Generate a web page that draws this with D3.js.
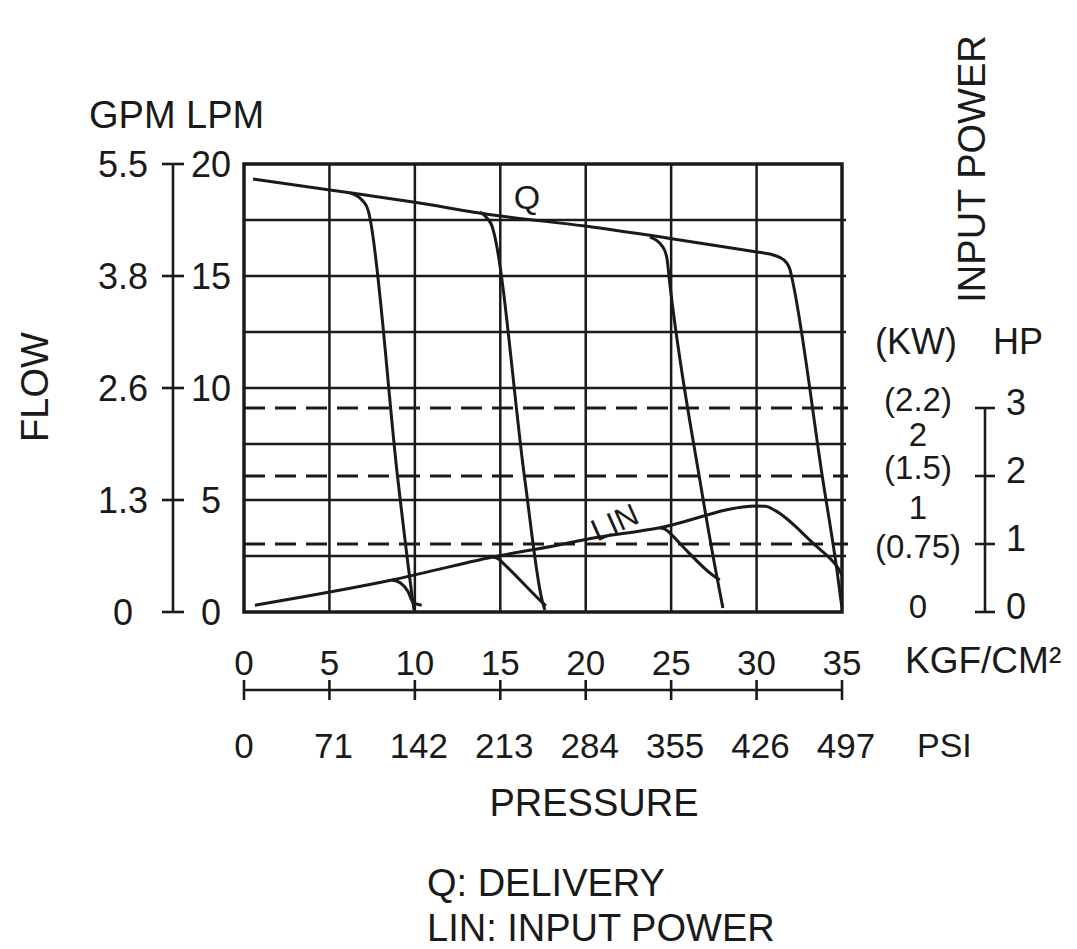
<!DOCTYPE html>
<html>
<head>
<meta charset="utf-8">
<script src="https://cdnjs.cloudflare.com/ajax/libs/d3/7.8.5/d3.min.js"></script>
<style>
	body { margin: 0; background: #fff; }
	text { font-family: 'Liberation Sans', Arial, Helvetica, sans-serif; fill: #1a1a1a; }
</style>
</head>
<body>
<div class="chart-wrapper"></div>
<script>
// ticks and labels
const kgfTicks = [0, 5, 10, 15, 20, 25, 30, 35];
const psiTicks = [0, 71, 142, 213, 284, 355, 426, 497];
const lpmTicks = [0, 5, 10, 15, 20];
const gpmLabels = ['0', '1.3', '2.6', '3.8', '5.5'];
const hpTicks = [0, 1, 2, 3];
const kwValues = [2.2, 2, 1.5, 1, 0.75, 0];
const kwLabels = ['(2.2)', '2', '(1.5)', '1', '(0.75)', '0'];

// Q delivery (kgf/cm2, LPM) - main line ending in the 35 relief drop
const qMain = [[0.53, 19.33], [5.03, 18.84], [9.89, 18.30], [14.57, 17.72], [19.95, 17.23],
	[24.75, 16.70], [30.02, 16.07], [30.78, 15.98], [31.6, 15.72], [31.95, 15.3], [32.07, 14.91],
	[33.88, 5.89], [34.70, 1.88], [34.99, 0.22]];
// relief drops branching off Q
const qRelief10 = [[6.20, 18.71], [6.96, 18.35], [7.28, 17.9], [7.37, 17.59], [9.01, 5.89], [9.83, 0.76], [9.95, 0.09]];
const qRelief17 = [[13.81, 17.86], [14.28, 17.54], [14.53, 17.2], [14.63, 16.92], [16.44, 5.89], [17.44, 0.54], [17.61, 0.09]];
const qRelief28 = [[23.76, 16.74], [24.52, 16.29], [24.75, 15.8], [24.93, 14.60], [26.68, 5.89], [27.68, 1.56], [28.03, 0.18]];

// LIN input power (kgf/cm2, HP)
const linMain = [[0.64, 0.10], [8.66, 0.47], [14.57, 0.81], [18.49, 0.99], [19.84, 1.06], [24.34, 1.24],
	[30.02, 1.56], [30.6, 1.55], [31.1, 1.49], [33.53, 0.96], [34.29, 0.79], [34.76, 0.65], [34.99, 0.54]];
const linRelief10 = [[8.66, 0.47], [9.2, 0.42], [9.6, 0.3], [9.9, 0.14], [10.4, 0.1]];
const linRelief17 = [[14.57, 0.81], [14.9, 0.78], [15.16, 0.72], [17.5, 0.13], [17.67, 0.09]];
const linRelief28 = [[24.34, 1.24], [24.7, 1.21], [24.93, 1.16], [25.69, 0.96], [27.44, 0.54], [27.85, 0.47]];

const ink = '#1a1a1a';

const svg = d3.select('.chart-wrapper').append('svg')
	.attr('width', 1077)
	.attr('height', 949);

var x = d3.scaleLinear().domain([0, 35]).range([244, 842]),
	y = d3.scaleLinear().domain([0, 20]).range([612, 164]),
	hp = d3.scaleLinear().domain([0, 3]).range([612, 408]);

// grid
var grid = svg.append('g').attr('class', 'grid');

grid.selectAll('.hgrid')
	.data(d3.range(2.5, 20, 2.5))
	.join('line')
	.attr('class', 'hgrid')
	.attr('x1', x(0)).attr('x2', x(35) + 4)
	.attr('y1', d => y(d)).attr('y2', d => y(d))
	.attr('stroke', ink).attr('stroke-width', 2.5);

grid.selectAll('.vgrid')
	.data(kgfTicks.slice(1, -1))
	.join('line')
	.attr('class', 'vgrid')
	.attr('x1', d => x(d)).attr('x2', d => x(d))
	.attr('y1', y(20)).attr('y2', y(0))
	.attr('stroke', ink).attr('stroke-width', 2.5);

grid.selectAll('.hpline')
	.data(hpTicks.slice(1))
	.join('line')
	.attr('class', 'hpline')
	.attr('x1', x(0)).attr('x2', x(35) + 6)
	.attr('y1', d => hp(d)).attr('y2', d => hp(d))
	.attr('stroke', ink).attr('stroke-width', 3)
	.attr('stroke-dasharray', '21,10');

// frame
svg.append('rect')
	.attr('x', x(0)).attr('y', y(20))
	.attr('width', x(35) - x(0)).attr('height', y(0) - y(20))
	.attr('fill', 'none').attr('stroke', ink).attr('stroke-width', 3.5);

// curves
var qLine = d3.line().x(d => x(d[0])).y(d => y(d[1])).curve(d3.curveMonotoneX),
	linLine = d3.line().x(d => x(d[0])).y(d => hp(d[1])).curve(d3.curveMonotoneX);

svg.selectAll('.q_curve')
	.data([qMain, qRelief10, qRelief17, qRelief28])
	.join('path')
	.attr('class', 'q_curve')
	.attr('d', qLine)
	.attr('fill', 'none').attr('stroke', ink).attr('stroke-width', 3);

svg.selectAll('.lin_curve')
	.data([linMain, linRelief10, linRelief17, linRelief28])
	.join('path')
	.attr('class', 'lin_curve')
	.attr('d', linLine)
	.attr('fill', 'none').attr('stroke', ink).attr('stroke-width', 3);

svg.append('text')
	.attr('x', 527).attr('y', 209)
	.attr('text-anchor', 'middle')
	.style('font-size', '34px')
	.text('Q');

svg.append('text')
	.attr('transform', 'translate(619,532) rotate(-24)')
	.attr('text-anchor', 'middle')
	.style('font-size', '31px')
	.text('LIN');

// left flow axis
var leftAxis = svg.append('g').attr('class', 'left-axis');
leftAxis.append('line')
	.attr('x1', 173).attr('x2', 173)
	.attr('y1', y(20)).attr('y2', y(0))
	.attr('stroke', ink).attr('stroke-width', 2.6);
leftAxis.selectAll('.tick')
	.data(lpmTicks)
	.join('line')
	.attr('class', 'tick')
	.attr('x1', 162).attr('x2', 184)
	.attr('y1', d => y(d)).attr('y2', d => y(d))
	.attr('stroke', ink).attr('stroke-width', 2.6);
leftAxis.selectAll('.lpm')
	.data(lpmTicks)
	.join('text')
	.attr('class', 'lpm')
	.attr('x', 211).attr('y', d => y(d))
	.attr('dy', '0.36em')
	.attr('text-anchor', 'middle')
	.style('font-size', '36px')
	.text(d => d);
leftAxis.selectAll('.gpm')
	.data(lpmTicks)
	.join('text')
	.attr('class', 'gpm')
	.attr('x', 123).attr('y', d => y(d))
	.attr('dy', '0.36em')
	.attr('text-anchor', 'middle')
	.style('font-size', '36px')
	.text((d, i) => gpmLabels[i]);

svg.append('text')
	.attr('x', 89).attr('y', 128)
	.style('font-size', '38px')
	.text('GPM LPM');

svg.append('text')
	.attr('transform', 'translate(48,387) rotate(-90)')
	.attr('text-anchor', 'middle')
	.style('font-size', '38px')
	.text('FLOW');

// right power axis
var rightAxis = svg.append('g').attr('class', 'right-axis');
rightAxis.append('line')
	.attr('x1', 985).attr('x2', 985)
	.attr('y1', hp(3)).attr('y2', hp(0))
	.attr('stroke', ink).attr('stroke-width', 2.6);
rightAxis.selectAll('.tick')
	.data(hpTicks)
	.join('line')
	.attr('class', 'tick')
	.attr('x1', 975).attr('x2', 995)
	.attr('y1', d => hp(d)).attr('y2', d => hp(d))
	.attr('stroke', ink).attr('stroke-width', 2.6);
rightAxis.selectAll('.hp')
	.data(hpTicks)
	.join('text')
	.attr('class', 'hp')
	.attr('x', 1006).attr('y', d => hp(d) - 6)
	.attr('dy', '0.36em')
	.style('font-size', '36px')
	.text(d => d);

var kwNudge = [-12, 4, -8, -14, 2, -6];
rightAxis.selectAll('.kw')
	.data(kwValues)
	.join('text')
	.attr('class', 'kw')
	.attr('x', 918).attr('y', (d, i) => hp(d / 0.746) + kwNudge[i])
	.attr('dy', '0.36em')
	.attr('text-anchor', 'middle')
	.style('font-size', '33px')
	.text((d, i) => kwLabels[i]);

svg.append('text')
	.attr('x', 916).attr('y', 341).attr('dy', '0.36em')
	.attr('text-anchor', 'middle')
	.style('font-size', '36px')
	.text('(KW)');
svg.append('text')
	.attr('x', 1018).attr('y', 341).attr('dy', '0.36em')
	.attr('text-anchor', 'middle')
	.style('font-size', '36px')
	.text('HP');

svg.append('text')
	.attr('transform', 'translate(985,169) rotate(-90)')
	.attr('text-anchor', 'middle')
	.style('font-size', '38px')
	.text('INPUT POWER');

// pressure axis
var bottom = svg.append('g').attr('class', 'bottom-axis');
bottom.append('line')
	.attr('x1', x(0)).attr('x2', x(35))
	.attr('y1', 690).attr('y2', 690)
	.attr('stroke', ink).attr('stroke-width', 2.6);
bottom.selectAll('.tick')
	.data(kgfTicks)
	.join('line')
	.attr('class', 'tick')
	.attr('x1', d => x(d)).attr('x2', d => x(d))
	.attr('y1', 680).attr('y2', 700)
	.attr('stroke', ink).attr('stroke-width', 2.6);
bottom.selectAll('.kgf')
	.data(kgfTicks)
	.join('text')
	.attr('class', 'kgf')
	.attr('x', d => x(d)).attr('y', 662).attr('dy', '0.36em')
	.attr('text-anchor', 'middle')
	.style('font-size', '35px')
	.text(d => d);
bottom.selectAll('.psi')
	.data(kgfTicks)
	.join('text')
	.attr('class', 'psi')
	.attr('x', d => x(d) + (d == 0 ? 0 : 4)).attr('y', 745).attr('dy', '0.36em')
	.attr('text-anchor', 'middle')
	.style('font-size', '35px')
	.text((d, i) => psiTicks[i]);

svg.append('text')
	.attr('x', 905).attr('y', 660).attr('dy', '0.36em')
	.style('font-size', '37px')
	.text('KGF/CM²');
svg.append('text')
	.attr('x', 917).attr('y', 745).attr('dy', '0.36em')
	.style('font-size', '34px')
	.text('PSI');

svg.append('text')
	.attr('x', 594).attr('y', 802).attr('dy', '0.36em')
	.attr('text-anchor', 'middle')
	.style('font-size', '38px')
	.text('PRESSURE');

svg.append('text')
	.attr('x', 427).attr('y', 882).attr('dy', '0.36em')
	.style('font-size', '38px')
	.text('Q: DELIVERY');
svg.append('text')
	.attr('x', 427).attr('y', 927).attr('dy', '0.36em')
	.style('font-size', '38px')
	.text('LIN: INPUT POWER');
</script>
</body>
</html>
